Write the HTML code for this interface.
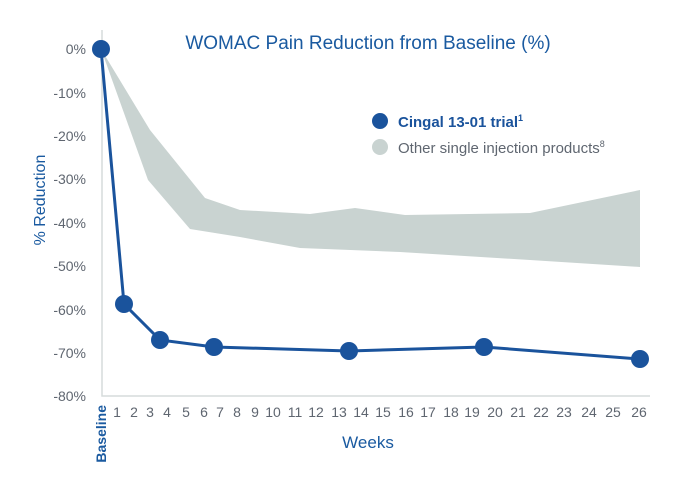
<!DOCTYPE html>
<html><head><style>body{margin:0;background:#fff}svg{display:block}</style></head><body>
<svg width="696" height="500" xmlns="http://www.w3.org/2000/svg" font-family="Liberation Sans, sans-serif">
<text x="368" y="49" text-anchor="middle" font-size="19" fill="#1a5aa0">WOMAC Pain Reduction from Baseline (%)</text>
<g font-size="14" fill="#5f6670" text-anchor="end">
<text x="86" y="54">0%</text><text x="86" y="98">-10%</text><text x="86" y="141">-20%</text><text x="86" y="184">-30%</text><text x="86" y="228">-40%</text><text x="86" y="271">-50%</text><text x="86" y="315">-60%</text><text x="86" y="358">-70%</text><text x="86" y="401">-80%</text>
</g>
<text transform="translate(45,200) rotate(-90)" text-anchor="middle" font-size="16" fill="#1a5aa0">% Reduction</text>
<polygon points="101,49 150,130 205,198 240,210 310,214 355,208 405,215 530,213 640,190 640,267 530,260 400,252 300,248 240,237 190,229 148,180" fill="#c9d3d1"/>
<path d="M102,30 V396 H650" fill="none" stroke="#d5dcdb" stroke-width="1.5"/>
<polyline points="101,49 124,304 160,340 214,347 349,351 484,347 640,359" fill="none" stroke="#1a539c" stroke-width="3"/>
<g fill="#1a539c"><circle cx="101" cy="49" r="9"/><circle cx="124" cy="304" r="9"/><circle cx="160" cy="340" r="9"/><circle cx="214" cy="347" r="9"/><circle cx="349" cy="351" r="9"/><circle cx="484" cy="347" r="9"/><circle cx="640" cy="359" r="9"/></g>
<g font-size="14" fill="#5f6670" text-anchor="middle">
<text x="117" y="417">1</text><text x="134" y="417">2</text><text x="150" y="417">3</text><text x="167" y="417">4</text><text x="186" y="417">5</text><text x="204" y="417">6</text><text x="220" y="417">7</text><text x="237" y="417">8</text><text x="255" y="417">9</text><text x="273" y="417">10</text><text x="295" y="417">11</text><text x="316" y="417">12</text><text x="339" y="417">13</text><text x="361" y="417">14</text><text x="383" y="417">15</text><text x="406" y="417">16</text><text x="428" y="417">17</text><text x="451" y="417">18</text><text x="472" y="417">19</text><text x="495" y="417">20</text><text x="518" y="417">21</text><text x="541" y="417">22</text><text x="564" y="417">23</text><text x="589" y="417">24</text><text x="613" y="417">25</text><text x="639" y="417">26</text>
</g>
<text transform="translate(106,405) rotate(-90)" text-anchor="end" font-size="14" font-weight="bold" fill="#1a5aa0">Baseline</text>
<text x="368" y="448" text-anchor="middle" font-size="17" fill="#1a5aa0">Weeks</text>
<circle cx="380" cy="121" r="8" fill="#1a539c"/>
<text x="398" y="127" font-size="15" font-weight="bold" fill="#1a539c">Cingal 13-01 trial<tspan font-size="9" dy="-6">1</tspan></text>
<circle cx="380" cy="147" r="8" fill="#c9d3d1"/>
<text x="398" y="153" font-size="15" fill="#5f6670">Other single injection products<tspan font-size="9" dy="-6">8</tspan></text>
</svg>
</body></html>
